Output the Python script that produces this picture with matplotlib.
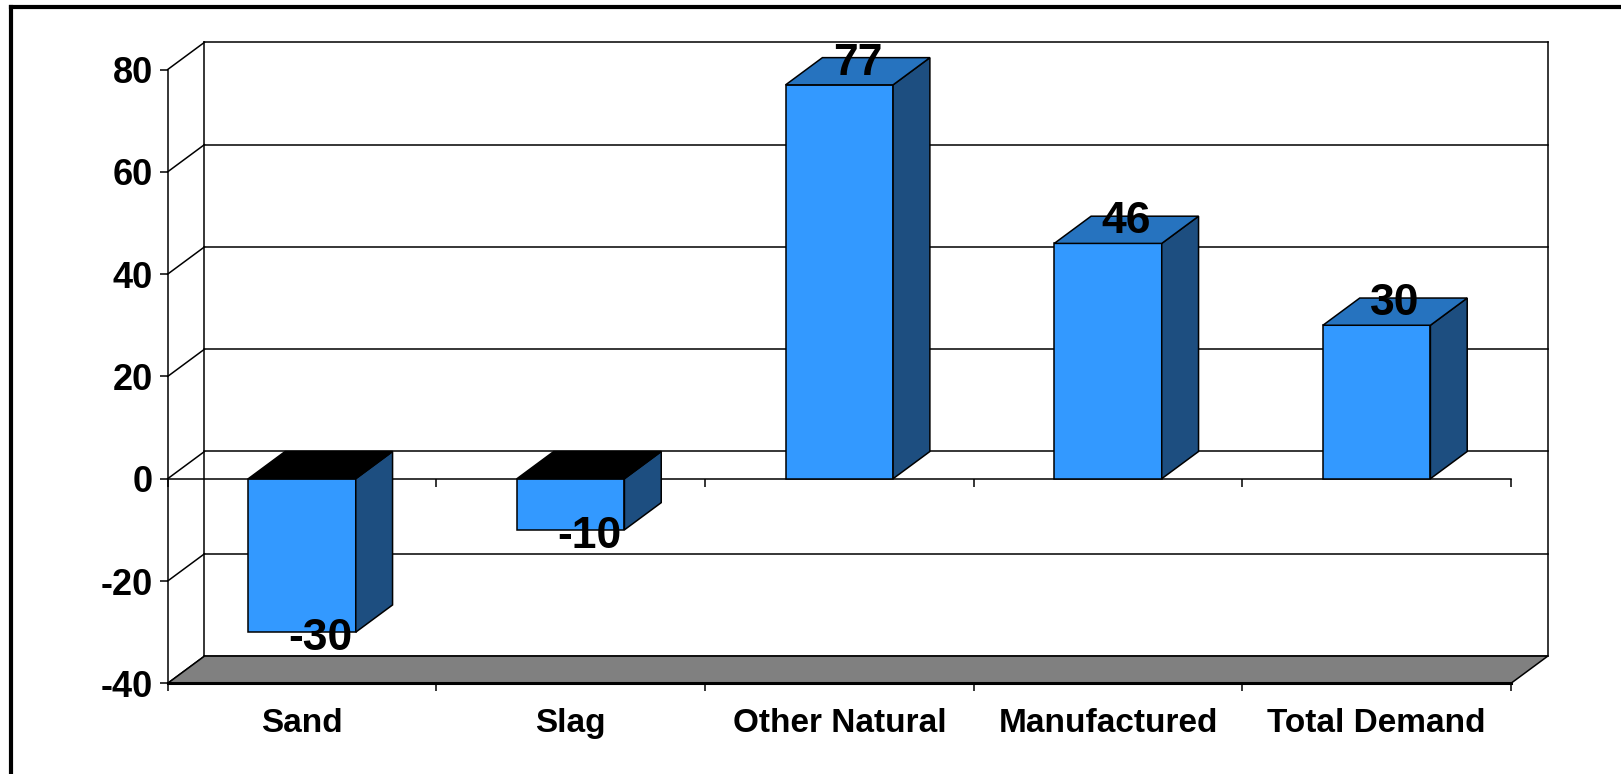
import matplotlib

matplotlib.use("Agg")
import matplotlib.pyplot as plt
from matplotlib.lines import Line2D
from matplotlib.patches import Polygon
from matplotlib.transforms import offset_copy

categories = ["Sand", "Slag", "Other Natural", "Manufactured", "Total Demand"]
values = [-30, -10, 77, 46, 30]
yticks = [-40, -20, 0, 20, 40, 60, 80]

FRONT = "#3399FF"
TOP = "#2673BF"
SIDE = "#1D4E80"
FLOOR = "#808080"

# depth of the fake 3-D box, in data units
DX = 0.137
DY = 5.32
WIDTH = 0.4
LW = 1.1

plt.rcParams["font.family"] = ["Liberation Sans", "DejaVu Sans"]
plt.rcParams["font.weight"] = "bold"

fig = plt.figure(figsize=(16.21, 7.74), dpi=100)
ax = fig.add_axes([0.10345, 0.11718, 0.82869, 0.79302])
ax.set_xlim(0, len(categories))
ax.set_ylim(yticks[0], yticks[-1])
ax.patch.set_visible(False)
n = len(categories)

# back wall: gridlines, side edges and the depth lines from the value axis
for v in yticks:
    ax.add_line(Line2D([DX, n + DX], [v + DY, v + DY], color="black", lw=LW,
                       zorder=1, clip_on=False))
    ax.add_line(Line2D([0, DX], [v, v + DY], color="black", lw=LW,
                       zorder=1, clip_on=False))
for xb in (DX, n + DX):
    ax.add_line(Line2D([xb, xb], [yticks[0] + DY, yticks[-1] + DY],
                       color="black", lw=LW, zorder=1, clip_on=False))

# floor
ax.add_patch(Polygon([(0, yticks[0]), (n, yticks[0]), (n + DX, yticks[0] + DY),
                      (DX, yticks[0] + DY)], closed=True, facecolor=FLOOR,
                     edgecolor="black", lw=LW, zorder=1.5, clip_on=False))

# category axis at zero with downward ticks
ax.plot([0, n], [0, 0], color="black", lw=LW, zorder=2, clip_on=False)
ax.plot(range(n + 1), [0] * (n + 1), ls="none", marker=3, markersize=6,
        markeredgewidth=LW, color="black", zorder=2, clip_on=False)

# bars
xs = [i + 0.5 for i in range(n)]
ax.bar(xs, values, width=WIDTH, color=FRONT, edgecolor="black", lw=LW,
       zorder=4, clip_on=False)
for x, v in zip(xs, values):
    left, right = x - WIDTH / 2, x + WIDTH / 2
    cap = max(v, 0)
    ax.add_patch(Polygon([(right, 0), (right + DX, DY), (right + DX, v + DY),
                          (right, v)], closed=True, facecolor=SIDE,
                         edgecolor="black", lw=LW, zorder=4, clip_on=False))
    ax.add_patch(Polygon([(left, cap), (left + DX, cap + DY),
                          (right + DX, cap + DY), (right, cap)], closed=True,
                         facecolor=TOP if v > 0 else "black",
                         edgecolor="black", lw=LW, zorder=4, clip_on=False))

# value labels sit on the centre of the end face
up = offset_copy(ax.transData, fig=fig, y=-2.5, units="points")
down = offset_copy(ax.transData, fig=fig, y=-23, units="points")
for x, v in zip(xs, values):
    ax.text(x + DX / 2, v + DY / 2, f"{v}", transform=up if v > 0 else down,
            ha="center", va="baseline", fontsize=32, fontweight="bold",
            zorder=6, clip_on=False)

# axes: front value axis and front floor edge
for side in ("top", "right"):
    ax.spines[side].set_visible(False)
ax.spines["left"].set_linewidth(LW)
ax.spines["bottom"].set_linewidth(2.2)
ax.spines["bottom"].set_zorder(2.5)

ax.set_yticks(yticks)
ax.set_yticklabels([str(v) for v in yticks], fontsize=26, fontweight="bold")
ax.tick_params(axis="y", direction="out", length=6, width=LW, pad=4.5)

ax.set_xticks(range(n + 1))
ax.set_xticklabels([])
ax.set_xticks(xs, minor=True)
ax.set_xticklabels(categories, minor=True, fontsize=24, fontweight="bold")
ax.tick_params(axis="x", which="major", direction="out", length=6, width=LW)
ax.tick_params(axis="x", which="minor", length=0, pad=17.5)

# outer frame: only the left and top edges fall inside the image
fig.add_artist(Line2D([11 / 1621, 11 / 1621], [0, 767 / 774],
                      transform=fig.transFigure, color="black", lw=3))
fig.add_artist(Line2D([11 / 1621, 1], [767 / 774, 767 / 774],
                      transform=fig.transFigure, color="black", lw=3))

fig.savefig("out.png", dpi=100)
